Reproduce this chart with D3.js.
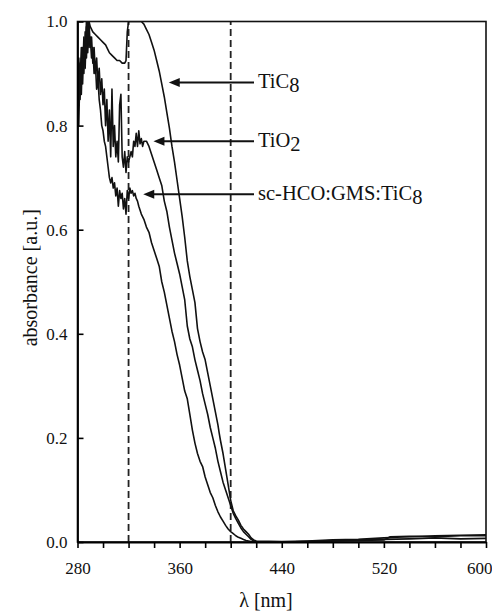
<!DOCTYPE html>
<html>
<head>
<meta charset="utf-8">
<script src="https://cdn.jsdelivr.net/npm/d3@7"></script>
<style>
  html, body { margin: 0; padding: 0; background: #fff; }
</style>
</head>
<body>
<svg id="chart" width="492" height="613"></svg>
<script>
// UV-Vis absorbance spectra (normalised)
const tic8Nm = [280,281,282,283,284,285,286,287,288,289,290,292,294,296,298,300,302,304,305,307,309,311,313,315,317,318,319,320,322,325,328,330,332,334,336,338,340,342,344,346,348,350,352,354,356,358,360,362,364,366,368,370,372,374,376,378,380,382,384,386,388,390,391,392,394,396,398,400,402,404,406,408,410,412,414,416,418,420,440,460,480,500,520,530,540,560,580,600];
const tic8Abs = [0.86,0.93,0.88,0.95,0.90,0.97,0.93,1.00,0.96,1.00,0.99,0.98,0.975,0.97,0.965,0.96,0.955,0.945,0.94,0.935,0.93,0.925,0.925,0.92,0.92,0.925,0.98,1.00,1.00,1.00,1.00,1.00,0.995,0.985,0.975,0.96,0.945,0.925,0.905,0.88,0.855,0.825,0.795,0.76,0.73,0.695,0.66,0.625,0.585,0.54,0.51,0.485,0.46,0.41,0.385,0.365,0.35,0.325,0.30,0.275,0.25,0.225,0.209,0.195,0.17,0.14,0.11,0.08,0.06,0.05,0.042,0.032,0.025,0.02,0.015,0.008,0.004,0.002,0.001,0.002,0.004,0.005,0.008,0.009,0.010,0.012,0.013,0.014];

const tio2Nm = [280,281,282,283,284,285,286,287,288,289,290,291,292,293,294,295,296,297,298,299,300,301,302,303,304,305,306,307,308,309,310,311,312,313,314,315,316,317,318,319,320,322,323,324,325,326,327,328,329,330,331,332,334,336,338,340,342,344,346,348,350,352,354,356,358,360,362,364,366,368,370,372,374,376,378,380,382,384,386,388,390,392,394,396,398,400,402,404,406,408,410,412,414,416,418,420,440,460,480,500,520,540,560,580,600];
const tio2Abs = [0.82,0.90,0.85,0.93,0.88,0.96,0.91,0.99,0.94,1.00,0.95,0.97,0.92,0.95,0.90,0.93,0.88,0.91,0.86,0.89,0.84,0.87,0.80,0.85,0.77,0.83,0.74,0.87,0.76,0.80,0.74,0.77,0.73,0.84,0.86,0.74,0.72,0.75,0.71,0.74,0.73,0.75,0.74,0.77,0.76,0.785,0.76,0.79,0.765,0.775,0.76,0.77,0.77,0.76,0.745,0.73,0.715,0.70,0.685,0.655,0.635,0.605,0.58,0.555,0.535,0.515,0.49,0.465,0.415,0.39,0.375,0.35,0.33,0.31,0.285,0.265,0.245,0.22,0.20,0.18,0.155,0.135,0.115,0.10,0.085,0.07,0.055,0.045,0.036,0.027,0.02,0.015,0.01,0.005,0.002,0.001,0.0,0.001,0.003,0.004,0.005,0.006,0.008,0.006,0.007];

const scNm = [280,281,282,283,284,285,286,287,288,289,290,291,292,293,294,295,296,297,298,299,300,301,302,303,304,305,306,307,308,309,310,311,312,313,314,315,316,317,318,319,320,321,322,323,324,325,326,327,328,330,332,334,336,338,340,342,344,346,348,350,352,354,356,358,360,362,364,366,368,370,372,374,376,378,380,382,384,386,388,390,392,394,396,398,400,402,404,406,408,410,412,414,416,420,440,460,480,500,520,525,540,560,580,600];
const scAbs = [0.87,0.80,0.92,0.86,0.95,0.90,0.98,0.93,1.00,0.95,0.97,0.93,0.95,0.90,0.92,0.87,0.89,0.85,0.83,0.80,0.79,0.77,0.76,0.74,0.72,0.70,0.69,0.70,0.68,0.69,0.665,0.68,0.645,0.675,0.66,0.67,0.64,0.66,0.63,0.675,0.66,0.68,0.67,0.675,0.665,0.67,0.66,0.655,0.645,0.63,0.62,0.605,0.595,0.575,0.56,0.545,0.53,0.50,0.48,0.455,0.43,0.405,0.385,0.36,0.34,0.315,0.29,0.275,0.245,0.215,0.19,0.17,0.155,0.145,0.125,0.11,0.095,0.085,0.07,0.058,0.048,0.04,0.032,0.025,0.02,0.016,0.012,0.009,0.007,0.005,0.003,0.002,0.001,0.0,0.0,0.001,0.002,0.003,0.004,0.010,0.011,0.010,0.012,0.012];

const seriesNames = ["TiC8", "TiO2", "sc-HCO:GMS:TiC8"];
// label pieces: main text and subscript
const labelMain = ["TiC", "TiO", "sc-HCO:GMS:TiC"];
const labelSub = ["8", "2", "8"];
// where each arrow points: wavelength of the head and absorbance level
const arrowHeadNm = [351.5, 339.5, 331.5];
const arrowLevel = [0.883, 0.770, 0.668];

const xTicks = [280,300,320,340,360,380,400,420,440,460,480,500,520,540,560,580,600];
const xTickLabels = [280, 360, 440, 520, 600];
const yTicks = [0, 0.2, 0.4, 0.6, 0.8, 1.0];
const markerNm = [320, 400];

const serif = "'Liberation Serif', 'Times New Roman', Times, 'Nimbus Roman', 'DejaVu Serif', serif";

const svg = d3.select("#chart");
const plotLeft = 77.5, plotRight = 486, plotTop = 21.5, plotBottom = 542;

const x = d3.scaleLinear().domain([280, 600]).range([plotLeft, plotRight]);
const y = d3.scaleLinear().domain([0, 1]).range([plotBottom, plotTop]);

svg.append("defs").append("clipPath").attr("id", "plotClip")
  .append("rect").attr("x", plotLeft).attr("y", plotTop)
  .attr("width", plotRight - plotLeft).attr("height", plotBottom - plotTop);

// dashed markers
svg.append("g").selectAll("line").data(markerNm).join("line")
  .attr("x1", d => x(d)).attr("x2", d => x(d))
  .attr("y1", y(0)).attr("y2", y(1))
  .attr("stroke", "#222").attr("stroke-width", 1.8)
  .attr("stroke-dasharray", "7,4");

// spectra
const line = d3.line().x(d => x(d[0])).y(d => y(d[1]));
const spectra = [
  d3.zip(tic8Nm, tic8Abs),
  d3.zip(tio2Nm, tio2Abs),
  d3.zip(scNm, scAbs)
];
svg.append("g").attr("clip-path", "url(#plotClip)")
  .selectAll("path").data(spectra).join("path")
  .attr("d", line)
  .attr("fill", "none").attr("stroke", "#111")
  .attr("stroke-width", 1.6).attr("stroke-linejoin", "round");

// frame
svg.append("rect").attr("x", plotLeft).attr("y", plotTop)
  .attr("width", plotRight - plotLeft).attr("height", plotBottom - plotTop)
  .attr("fill", "none").attr("stroke", "#111").attr("stroke-width", 1.6);

// axes
const xAxis = d3.axisBottom(x).tickValues(xTicks).tickSize(6).tickSizeOuter(0).tickPadding(14)
  .tickFormat(d => xTickLabels.includes(d) ? String(d) : "");
const gx = svg.append("g").attr("transform", `translate(0,${plotBottom})`).call(xAxis)
  .attr("font-family", null).attr("font-size", null);
gx.select(".domain").attr("stroke-width", 1.8);
gx.selectAll(".tick line").attr("stroke-width", 1.6);
gx.selectAll(".tick text").style("font-family", serif).style("font-size", "17px").attr("fill", "#111");
// keep the last label inside the page
gx.selectAll(".tick text").filter(d => d === 600).attr("text-anchor", "end").attr("x", 6);

const yAxis = d3.axisLeft(y).tickValues(yTicks).tickSize(-6).tickSizeOuter(0).tickPadding(10)
  .tickFormat(d3.format(".1f"));
const gy = svg.append("g").attr("transform", `translate(${plotLeft},0)`).call(yAxis)
  .attr("font-family", null).attr("font-size", null);
gy.select(".domain").attr("stroke-width", 1.8);
gy.selectAll(".tick line").attr("stroke-width", 1.6);
gy.selectAll(".tick text").style("font-family", serif).style("font-size", "17px").attr("fill", "#111");

// axis titles
svg.append("text").attr("x", 266).attr("y", 607).attr("text-anchor", "middle")
  .style("font-family", serif).style("font-size", "20px").attr("fill", "#111").text("λ [nm]");
svg.append("text").attr("transform", `translate(37,${(plotTop + plotBottom) / 2 - 4}) rotate(-90)`)
  .attr("text-anchor", "middle")
  .style("font-family", serif).style("font-size", "20px").attr("fill", "#111").text("absorbance [a.u.]");

// arrows with labels
const labelX = 258;
const arrows = svg.append("g");
seriesNames.forEach((name, i) => {
  const yy = y(arrowLevel[i]);
  const hx = x(arrowHeadNm[i]);
  const tx = labelX - 4;
  arrows.append("line").attr("x1", hx + 8).attr("x2", tx)
    .attr("y1", yy).attr("y2", yy).attr("stroke", "#111").attr("stroke-width", 2);
  arrows.append("path")
    .attr("d", `M${hx},${yy}L${hx + 11},${yy - 4.5}L${hx + 11},${yy + 4.5}Z`)
    .attr("fill", "#111");
  const t = arrows.append("text").attr("x", labelX).attr("y", yy + 6)
    .style("font-family", serif).style("font-size", "20.5px").attr("fill", "#111");
  t.append("tspan").text(labelMain[i]);
  t.append("tspan").attr("dy", 4).text(labelSub[i]);
});
</script>
</body>
</html>
